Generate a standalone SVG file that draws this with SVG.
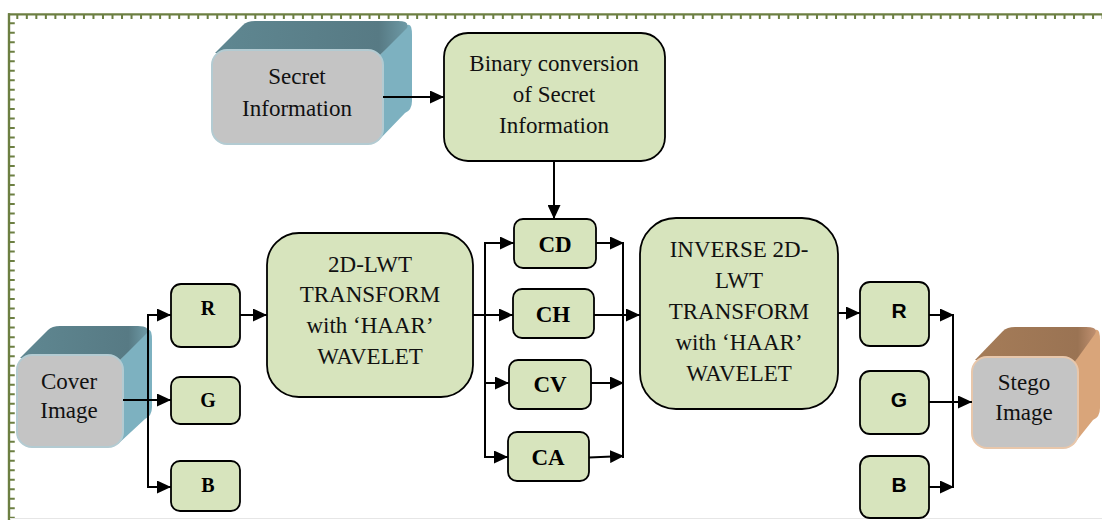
<svg xmlns="http://www.w3.org/2000/svg" width="1102" height="520" viewBox="0 0 1102 520">
  <defs>
    <marker id="arrow" markerWidth="14" markerHeight="13" refX="14" refY="6.5" orient="auto" markerUnits="userSpaceOnUse">
      <path d="M0,0 L14,6.5 L0,13 Z" fill="#000"/>
    </marker>
    <linearGradient id="tealTop" x1="0" y1="0" x2="1" y2="0">
      <stop offset="0" stop-color="#5f8791"/>
      <stop offset="0.85" stop-color="#577a84"/>
      <stop offset="1" stop-color="#6e9aa6"/>
    </linearGradient>
    <linearGradient id="brownTop" x1="0" y1="0" x2="1" y2="0">
      <stop offset="0" stop-color="#a57c58"/>
      <stop offset="0.85" stop-color="#9a7353"/>
      <stop offset="1" stop-color="#c09070"/>
    </linearGradient>
  </defs>
  <style>
    .step { fill: #d7e4bd; stroke: #000; stroke-width: 1.8; }
    .serif { font-family: "Liberation Serif", "Times New Roman", serif; font-size: 23px; fill: #111; text-anchor: middle; }
    .bold { font-family: "Liberation Serif", "Times New Roman", serif; font-size: 23px; font-weight: bold; fill: #000; text-anchor: middle; }
    .boldsm { font-family: "Liberation Serif", "Times New Roman", serif; font-size: 20px; font-weight: bold; fill: #000; text-anchor: middle; }
    .sans { font-family: "Liberation Sans", Arial, sans-serif; font-size: 21px; font-weight: bold; fill: #000; text-anchor: middle; }
    .wire { fill: none; stroke: #000; stroke-width: 2; }
    .wire-a { fill: none; stroke: #000; stroke-width: 2; marker-end: url(#arrow); }
    .teal-side { fill: #7db1c0; }
    .brown-side { fill: #d9a57a; }
    .face-teal { fill: #c4c4c4; stroke: #b3cbd2; stroke-width: 2; }
    .face-brown { fill: #c4c4c4; stroke: #e8c7ab; stroke-width: 2; }
  </style>

  <rect width="1102" height="520" fill="#fff"/>

  <!-- page frame with tick border -->
  <g id="frame">
    <line x1="8" y1="14.3" x2="1102" y2="14.3" stroke="#6c7f42" stroke-width="2.2"/>
    <line x1="16.3" y1="17" x2="1102" y2="17" stroke="#6c7f42" stroke-width="4" stroke-dasharray="2 7.52"/>
    <line x1="9" y1="13.3" x2="9" y2="520" stroke="#6c7f42" stroke-width="2.4"/>
    <line x1="12" y1="22.3" x2="12" y2="520" stroke="#6c7f42" stroke-width="5.5" stroke-dasharray="2 7.51"/>
    <line x1="10" y1="518.5" x2="1102" y2="518.5" stroke="#e6e6e6" stroke-width="1"/>
  </g>

  <!-- Secret Information (3D block) -->
  <g id="secret-information">
    <path class="teal-side" d="M379,56 L406,26 Q412,21 412,35 L412,101 Q412,110 405,113 L378,141 Z"/>
    <path fill="url(#tealTop)" d="M215,53 L243,25 Q247,21 255,21 L398,21 Q410,21 407,28 L379,56 Z"/>
    <rect class="face-teal" x="212" y="50" width="171" height="94" rx="15"/>
    <text class="serif" x="297" y="84">Secret</text>
    <text class="serif" x="297" y="116">Information</text>
  </g>

  <!-- Binary conversion -->
  <g id="binary-conversion">
    <rect class="step" x="444" y="33" width="221" height="128" rx="24"/>
    <text class="serif" x="554" y="71">Binary conversion</text>
    <text class="serif" x="554" y="102">of Secret</text>
    <text class="serif" x="554" y="133">Information</text>
  </g>

  <!-- Cover Image (3D block) -->
  <g id="cover-image">
    <path class="teal-side" d="M119,361 L146,331 Q152,326 152,340 L152,407 Q152,416 145,419 L118,444 Z"/>
    <path fill="url(#tealTop)" d="M20,358 L48,330 Q52,326 60,326 L138,326 Q150,326 147,333 L119,361 Z"/>
    <rect class="face-teal" x="17" y="355" width="106" height="92" rx="15"/>
    <text class="serif" x="69" y="389">Cover</text>
    <text class="serif" x="69" y="418">Image</text>
  </g>

  <!-- Stego Image (3D block) -->
  <g id="stego-image">
    <path class="brown-side" d="M1074,363 L1094,331 Q1100,326 1100,340 L1100,408 Q1100,417 1093,420 L1073,445 Z"/>
    <path fill="url(#brownTop)" d="M975,360 L1003,331 Q1007,327 1015,327 L1086,327 Q1099,327 1095,334 L1074,363 Z"/>
    <rect class="face-brown" x="972" y="357" width="106" height="91" rx="15"/>
    <text class="serif" x="1024" y="390">Stego</text>
    <text class="serif" x="1024" y="420">Image</text>
  </g>

  <!-- Left colour channels -->
  <g id="left-r">
    <rect class="step" x="171" y="284" width="69" height="63" rx="10"/>
    <text class="boldsm" x="208" y="315">R</text>
  </g>
  <g id="left-g">
    <rect class="step" x="171" y="377" width="69" height="47" rx="9"/>
    <text class="boldsm" x="208" y="407">G</text>
  </g>
  <g id="left-b">
    <rect class="step" x="171" y="461" width="69" height="50" rx="9"/>
    <text class="boldsm" x="208" y="492">B</text>
  </g>

  <!-- Forward transform -->
  <g id="lwt-transform">
    <rect class="step" x="267" y="233" width="206" height="164" rx="32"/>
    <text class="serif" x="370" y="272">2D-LWT</text>
    <text class="serif" x="370" y="302">TRANSFORM</text>
    <text class="serif" x="370" y="333">with ‘HAAR’</text>
    <text class="serif" x="370" y="364">WAVELET</text>
  </g>

  <!-- Sub-bands -->
  <g id="band-cd">
    <rect class="step" x="514" y="219" width="82" height="49" rx="9"/>
    <text class="bold" x="555" y="252">CD</text>
  </g>
  <g id="band-ch">
    <rect class="step" x="513" y="289" width="81" height="49" rx="9"/>
    <text class="bold" x="553" y="322">CH</text>
  </g>
  <g id="band-cv">
    <rect class="step" x="509" y="360" width="82" height="49" rx="9"/>
    <text class="bold" x="550" y="392">CV</text>
  </g>
  <g id="band-ca">
    <rect class="step" x="508" y="432" width="81" height="49" rx="9"/>
    <text class="bold" x="548" y="465">CA</text>
  </g>

  <!-- Inverse transform -->
  <g id="inverse-transform">
    <rect class="step" x="640" y="218" width="198" height="191" rx="36"/>
    <text class="serif" x="739" y="257">INVERSE 2D-</text>
    <text class="serif" x="739" y="288">LWT</text>
    <text class="serif" x="739" y="319">TRANSFORM</text>
    <text class="serif" x="739" y="350">with ‘HAAR’</text>
    <text class="serif" x="739" y="381">WAVELET</text>
  </g>

  <!-- Right colour channels -->
  <g id="right-r">
    <rect class="step" x="860" y="282" width="69" height="64" rx="10"/>
    <text class="sans" x="899" y="318">R</text>
  </g>
  <g id="right-g">
    <rect class="step" x="860" y="371" width="69" height="63" rx="10"/>
    <text class="sans" x="899" y="407">G</text>
  </g>
  <g id="right-b">
    <rect class="step" x="860" y="456" width="69" height="62" rx="10"/>
    <text class="sans" x="899" y="492">B</text>
  </g>

  <!-- Connectors -->
  <g id="connectors">
    <line class="wire-a" x1="383" y1="97" x2="444" y2="97"/>
    <line class="wire-a" x1="554" y1="161" x2="554" y2="219"/>

    <line class="wire-a" x1="123" y1="400" x2="171" y2="400"/>
    <line class="wire" x1="148" y1="314" x2="148" y2="488"/>
    <line class="wire-a" x1="147" y1="315" x2="171" y2="315"/>
    <line class="wire-a" x1="147" y1="487" x2="171" y2="487"/>

    <line class="wire-a" x1="240" y1="315" x2="267" y2="315"/>

    <line class="wire-a" x1="473" y1="315" x2="513" y2="315"/>
    <line class="wire" x1="485" y1="242" x2="485" y2="458"/>
    <line class="wire-a" x1="484" y1="243" x2="514" y2="243"/>
    <line class="wire-a" x1="484" y1="383" x2="509" y2="383"/>
    <line class="wire-a" x1="484" y1="457" x2="508" y2="457"/>

    <line class="wire-a" x1="596" y1="243" x2="624" y2="243"/>
    <line class="wire-a" x1="594" y1="315" x2="640" y2="315"/>
    <line class="wire-a" x1="591" y1="383" x2="624" y2="383"/>
    <line class="wire-a" x1="589" y1="457.5" x2="624" y2="456"/>
    <line class="wire" x1="623" y1="242" x2="623" y2="458"/>

    <line class="wire-a" x1="838" y1="313" x2="860" y2="313"/>
    <line class="wire-a" x1="929" y1="315" x2="954" y2="315"/>
    <line class="wire-a" x1="929" y1="402" x2="972" y2="402"/>
    <line class="wire-a" x1="929" y1="487" x2="954" y2="487"/>
    <line class="wire" x1="953" y1="314" x2="953" y2="488"/>
  </g>
</svg>
